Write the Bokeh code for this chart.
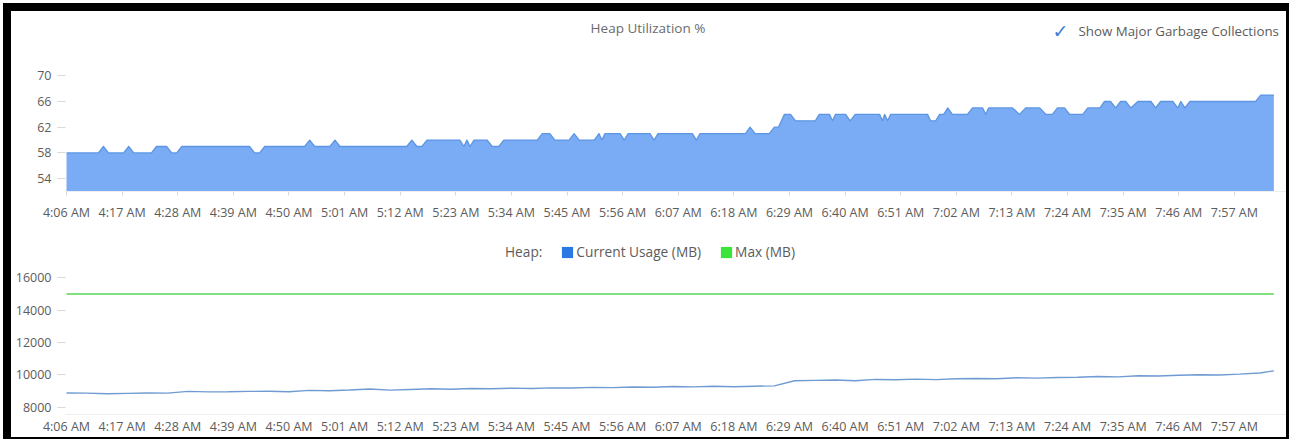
from bokeh.plotting import figure
from bokeh.models import Range1d, FixedTicker, Label, Legend, LegendItem
from bokeh.layouts import column
from bokeh.embed import file_html
from bokeh.resources import INLINE

NAN = float("nan")

# ---------------- data ----------------
tick_minutes = [0, 11, 22, 33, 44, 55, 66, 77, 88, 99, 110, 121, 132, 143, 154,
                165, 176, 187, 198, 209, 220, 231]
tick_labels = ["4:06 AM", "4:17 AM", "4:28 AM", "4:39 AM", "4:50 AM", "5:01 AM",
               "5:12 AM", "5:23 AM", "5:34 AM", "5:45 AM", "5:56 AM", "6:07 AM",
               "6:18 AM", "6:29 AM", "6:40 AM", "6:51 AM", "7:02 AM", "7:13 AM",
               "7:24 AM", "7:35 AM", "7:46 AM", "7:57 AM"]

# Heap utilization % (minutes after 4:06 AM)
util_minutes = [0, 6.3, 7.3, 8.3, 11.3, 12.3, 13.3, 16.8, 17.8, 19.8,
                20.8, 21.8, 22.8, 36.2, 37.2, 38.2, 39.2, 47.1, 48.1, 49.1,
                52.1, 53.1, 54.1, 67.3, 68.3, 69.3, 70.3, 71.3, 77.8, 78.6,
                79.2, 79.8, 80.6, 83.2, 84.2, 85.5, 86.5, 93.1, 94.1, 95.6,
                96.6, 99.4, 100.4, 101.4, 104.4, 105.3, 105.9, 106.5, 109.5, 110.3,
                111.1, 115.4, 116.2, 117.0, 123.8, 124.6, 125.3, 134.3, 135.2, 136.2,
                139.0, 140.0, 140.8, 142.0, 143.2, 144.2, 148.1, 148.9, 150.9, 151.5,
                152.1, 154.1, 155.0, 156.0, 160.8, 161.4, 161.8, 162.4, 163.0, 170.3,
                170.9, 171.9, 172.7, 173.5, 174.3, 175.2, 178.2, 179.2, 181.2, 181.8,
                182.4, 187.1, 188.5, 189.7, 192.5, 193.7, 195.0, 196.0, 197.4, 198.4,
                201.0, 202.0, 204.4, 205.3, 206.5, 207.5, 208.5, 209.5, 210.5, 211.9,
                214.5, 215.4, 216.4, 218.8, 219.8, 220.4, 221.2, 222.2, 235.2, 236.2,
                238.8]
util_pct = [58, 58, 59, 58, 58, 59, 58, 58, 59, 59,
            58, 58, 59, 59, 58, 58, 59, 59, 60, 59,
            59, 60, 59, 59, 60, 59, 59, 60, 60, 59,
            60, 59, 60, 60, 59, 59, 60, 60, 61, 61,
            60, 60, 61, 60, 60, 61, 60, 61, 61, 60,
            61, 61, 60, 61, 61, 60, 61, 61, 62, 61,
            61, 62, 62, 64, 64, 63, 63, 64, 64, 63,
            64, 64, 63, 64, 64, 63, 64, 63, 64, 64,
            63, 63, 64, 64, 65, 64, 64, 65, 65, 64,
            65, 65, 64, 65, 65, 64, 64, 65, 65, 64,
            64, 65, 65, 66, 66, 65, 66, 66, 65, 66,
            66, 65, 66, 66, 65, 66, 65, 66, 66, 67,
            67]

# Heap usage (MB)
usage_minutes = [0, 4, 8, 12, 16, 20, 24, 28, 32, 36, 40, 44, 48, 52, 56, 60,
                 64, 68, 72, 76, 80, 84, 88, 92, 96, 100, 104, 108, 112, 116, 120,
                 124, 128, 132, 136, 140, 144, 148, 152, 156, 160, 164, 168, 172,
                 176, 180, 184, 188, 192, 196, 200, 204, 208, 212, 216, 220, 224,
                 228, 232, 236, 238.8]
usage_mb = [8880, 8870, 8830, 8860, 8880, 8870, 8980, 8950, 8960, 8980, 8990, 8960,
            9040, 9020, 9070, 9130, 9060, 9100, 9140, 9110, 9160, 9140, 9180, 9160,
            9200, 9190, 9230, 9210, 9250, 9240, 9280, 9260, 9300, 9270, 9300, 9320,
            9640, 9660, 9680, 9640, 9720, 9700, 9740, 9710, 9760, 9780, 9760, 9820,
            9800, 9840, 9850, 9900, 9880, 9950, 9930, 9980, 10010, 9990, 10050, 10120,
            10250]
max_minutes = [0, 238.8]
max_mb = [15000, 15000]

util_ticks = [54, 58, 62, 66, 70]
mb_ticks = [8000, 10000, 12000, 14000, 16000]

# ---------------- style ----------------
FONT = "Open Sans"
TXT = "#5c5c5c"
AREA = "#79acf4"
AREA_EDGE = "#5e95e2"
BLUE = "#2a78e4"
GREEN = "#3be33b"

X_RANGE = (-0.2, 241.3)
FIG_W = 1275


def style_axes(p):
    p.xgrid.visible = False
    p.ygrid.visible = False
    p.outline_line_color = None
    p.background_fill_color = "white"
    p.border_fill_color = "white"
    for ax in (p.xaxis[0], p.yaxis[0]):
        ax.major_tick_line_color = "#d8d8d8"
        ax.minor_tick_line_color = None
        ax.major_tick_in = 0
        ax.major_label_text_font = FONT
        ax.major_label_text_font_size = "12.5px"
        ax.major_label_text_color = TXT
    p.xaxis.axis_line_color = "#eeeeee"
    p.yaxis.axis_line_color = None
    p.xaxis.ticker = FixedTicker(ticks=tick_minutes)
    p.xaxis.major_label_overrides = {m: s for m, s in zip(tick_minutes, tick_labels)}
    p.yaxis.major_tick_out = 8
    p.yaxis.major_label_standoff = 6


# ---------------- top: heap utilization ----------------
top = figure(width=FIG_W, height=214, x_range=Range1d(*X_RANGE), y_range=Range1d(52, 80),
             output_backend="svg", toolbar_location=None,
             min_border_left=54, min_border_right=0, min_border_top=0, min_border_bottom=34)
style_axes(top)
top.yaxis.ticker = FixedTicker(ticks=util_ticks)
top.xaxis.major_tick_out = 4
top.xaxis.major_label_standoff = 8

top.varea(x=util_minutes, y1=52, y2=util_pct, fill_color=AREA, fill_alpha=1.0)
top.line(x=util_minutes, y=util_pct, line_color=AREA_EDGE, line_width=1.3, line_join="round")

top.add_layout(Label(x=582.5, y=164, x_units="screen", y_units="screen",
                     text="Heap Utilization %", text_font=FONT, text_font_size="13.5px",
                     text_color="#6c6c6c", text_align="center", text_baseline="middle"))
top.add_layout(Label(x=995, y=161, x_units="screen", y_units="screen",
                     text="\u2713", text_font="DejaVu Sans", text_font_size="19px",
                     text_color="#3d7fd8", text_align="center", text_baseline="middle"))
top.add_layout(Label(x=1013, y=161, x_units="screen", y_units="screen",
                     text="Show Major Garbage Collections", text_font=FONT,
                     text_font_size="13.3px", text_color="#5c5c5c",
                     text_align="left", text_baseline="middle"))

# ---------------- bottom: heap MB ----------------
bot = figure(width=FIG_W, height=212, x_range=Range1d(*X_RANGE), y_range=Range1d(7550, 19243),
             output_backend="svg", toolbar_location=None,
             min_border_left=54, min_border_right=0, min_border_top=0, min_border_bottom=22)
style_axes(bot)
bot.yaxis.ticker = FixedTicker(ticks=mb_ticks)
bot.xaxis.major_tick_out = 0
bot.xaxis.major_label_standoff = 3

bot.line(x=max_minutes, y=max_mb, line_color="#7fe27f", line_width=2)
bot.line(x=usage_minutes, y=usage_mb, line_color="#6f9bd2", line_width=1.4)

sq_none = bot.quad(left=[NAN], right=[NAN], top=[NAN], bottom=[NAN],
                   fill_alpha=0, line_color=None)
sq_blue = bot.quad(left=[NAN], right=[NAN], top=[NAN], bottom=[NAN],
                   fill_color=BLUE, line_color=None)
sq_green = bot.quad(left=[NAN], right=[NAN], top=[NAN], bottom=[NAN],
                    fill_color=GREEN, line_color=None)

legend = Legend(items=[LegendItem(label="Heap:", renderers=[sq_none]),
                       LegendItem(label="Current Usage (MB)", renderers=[sq_blue]),
                       LegendItem(label="Max (MB)", renderers=[sq_green])],
                orientation="horizontal", location=(424, 153), margin=0, padding=0,
                spacing=18, glyph_width=14, glyph_height=14, label_standoff=2,
                label_height=16,
                label_text_font=FONT, label_text_font_size="13.7px", label_text_color=TXT,
                border_line_color=None, background_fill_alpha=0)
bot.add_layout(legend, "center")

layout = column(top, bot, spacing=0,
                styles={"border-style": "solid", "border-color": "#000",
                        "border-width": "8px 3px 2px 8px", "margin": "3px 0 0 3px",
                        "background": "white"})

open("out.html", "w").write(file_html(layout, INLINE))
